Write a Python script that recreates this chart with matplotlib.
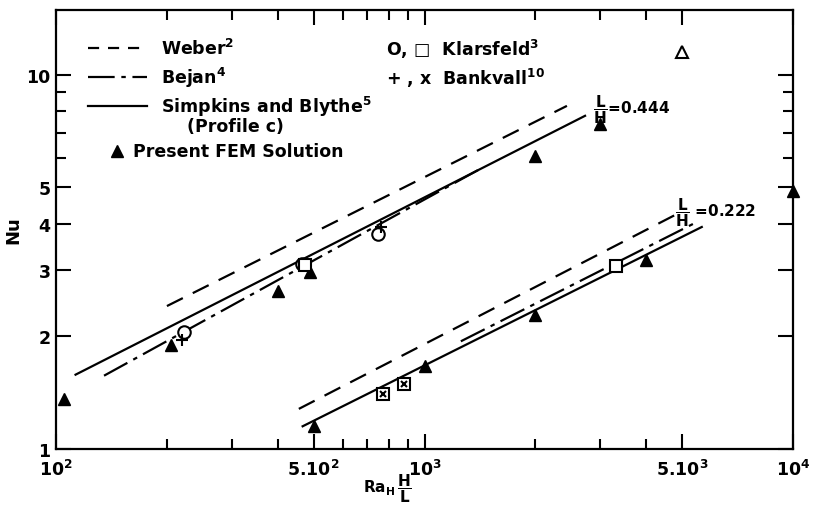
import matplotlib
matplotlib.use("Agg")
import matplotlib.pyplot as plt
from matplotlib.ticker import FixedLocator, NullFormatter

plt.rcParams['font.family'] = ['Liberation Sans Narrow', 'DejaVu Sans']
plt.rcParams['font.weight'] = 'bold'
plt.rcParams['mathtext.fontset'] = 'dejavusans'
plt.rcParams['mathtext.default'] = 'bf'

# FEM results (filled triangles)
fem_up_x = [105, 205, 400, 490, 2000, 3000, 10000]
fem_up_y = [1.36, 1.90, 2.65, 2.97, 6.05, 7.4, 4.9]
fem_lo_x = [500, 1005, 2000, 4000]
fem_lo_y = [1.15, 1.67, 2.28, 3.2]

# Klarsfeld (circles, squares)
kl_circ_x = [222, 465, 750]
kl_circ_y = [2.05, 3.12, 3.75]
kl_sq_x = [475, 770, 880, 3300]
kl_sq_y = [3.10, 1.40, 1.49, 3.08]

# Bankvall (+, x)
bk_plus_x = [220, 760]
bk_plus_y = [1.95, 3.92]
bk_x_x = [770, 880]
bk_x_y = [1.40, 1.49]

open_tri_x = [5000]
open_tri_y = [11.5]

# correlations, L/H = 0.444
weber_up_x = [200, 2435]
weber_up_y = [2.41, 8.26]
bejan_up_x = [135, 1414]
bejan_up_y = [1.57, 5.6]
simp_up_x = [113, 2727]
simp_up_y = [1.58, 7.77]

# correlations, L/H = 0.222
weber_lo_x = [456, 4785]
weber_lo_y = [1.28, 4.22]
bejan_lo_x = [1255, 5370]
bejan_lo_y = [1.94, 4.0]
simp_lo_x = [467, 5655]
simp_lo_y = [1.15, 3.92]

x_major = [100, 500, 1000, 5000, 10000]
x_labels = ['10$^2$', '5.10$^2$', '10$^3$', '5.10$^3$', '10$^4$']
x_minor = [200, 300, 400, 600, 700, 800, 900, 2000, 3000, 4000]
y_major = [1, 2, 3, 4, 5, 10]
y_labels = ['1', '2', '3', '4', '5', '10']
y_minor = [6, 7, 8, 9]

fig = plt.figure(figsize=(8.13, 5.06), dpi=100)
ax = fig.add_axes([56/813, 56/506, 737/813, 439/506])
ax.set_xscale('log')
ax.set_yscale('log')
ax.set_xlim(100, 10000)
ax.set_ylim(1, 14.9)

lw = 1.6
dashed = (8, 5)
dashdot = (12, 3, 2, 3)

for xs, ys in [(weber_up_x, weber_up_y), (weber_lo_x, weber_lo_y)]:
    ax.plot(xs, ys, color='k', lw=lw, dashes=dashed)
for xs, ys in [(bejan_up_x, bejan_up_y), (bejan_lo_x, bejan_lo_y)]:
    ax.plot(xs, ys, color='k', lw=lw, dashes=dashdot)
for xs, ys in [(simp_up_x, simp_up_y), (simp_lo_x, simp_lo_y)]:
    ax.plot(xs, ys, color='k', lw=lw, ls='-')

ax.plot(fem_up_x, fem_up_y, '^', color='k', ms=8.5, ls='none', clip_on=False)
ax.plot(fem_lo_x, fem_lo_y, '^', color='k', ms=8.5, ls='none', clip_on=False)
ax.plot(kl_circ_x, kl_circ_y, 'o', mfc='white', mec='k', mew=1.5, ms=9, ls='none')
ax.plot(kl_sq_x, kl_sq_y, 's', mfc='white', mec='k', mew=1.5, ms=8, ls='none')
ax.plot(bk_plus_x, bk_plus_y, '+', color='k', mew=1.5, ms=8, ls='none')
ax.plot(bk_x_x, bk_x_y, 'x', color='k', mew=1.5, ms=5, ls='none')
ax.plot(open_tri_x, open_tri_y, '^', mfc='white', mec='k', mew=1.5, ms=8, ls='none')

# annotations
ax.text(2870, 8.1, r'$\dfrac{L}{H}$=0.444', fontsize=11, va='center', ha='left')
ax.text(4780, 4.3, r'$\dfrac{L}{H}$ =0.222', fontsize=11, va='center', ha='left')

# hand drawn legend
tr = ax.transAxes
fs = 12.5
ax.plot([0.043, 0.123], [0.913, 0.913], color='k', lw=lw, dashes=(5, 4), transform=tr)
ax.text(0.142, 0.913, 'Weber$^2$', fontsize=fs, va='center', transform=tr)
ax.plot([0.043, 0.123], [0.847, 0.847], color='k', lw=lw, dashes=dashdot, transform=tr)
ax.text(0.142, 0.847, 'Bejan$^4$', fontsize=fs, va='center', transform=tr)
ax.plot([0.043, 0.123], [0.781, 0.781], color='k', lw=lw, transform=tr)
ax.text(0.142, 0.781, 'Simpkins and Blythe$^5$', fontsize=fs, va='center', transform=tr)
ax.text(0.243, 0.736, '(Profile c)', fontsize=fs, va='center', ha='center', transform=tr)
ax.plot([0.083], [0.679], '^', color='k', ms=8.5, transform=tr)
ax.text(0.104, 0.679, 'Present FEM Solution', fontsize=fs, va='center', transform=tr)
ax.text(0.448, 0.913, 'O, \u25a1  Klarsfeld$^3$', fontsize=fs, va='center', transform=tr)
ax.text(0.448, 0.847, '+ , x  Bankvall$^{10}$', fontsize=fs, va='center', transform=tr)

# ticks
ax.xaxis.set_major_locator(FixedLocator(x_major))
ax.set_xticklabels(x_labels)
ax.xaxis.set_minor_locator(FixedLocator(x_minor))
ax.xaxis.set_minor_formatter(NullFormatter())
ax.yaxis.set_major_locator(FixedLocator(y_major))
ax.set_yticklabels(y_labels)
ax.yaxis.set_minor_locator(FixedLocator(y_minor))
ax.yaxis.set_minor_formatter(NullFormatter())
ax.tick_params(which='both', direction='in', top=True, right=True, width=1.5,
               labelsize=12.5, colors='k')
ax.tick_params(which='major', length=11)
ax.tick_params(axis='x', which='major', pad=7)
ax.tick_params(axis='y', which='major', pad=4)
ax.tick_params(which='minor', length=7.5)
for s in ax.spines.values():
    s.set_linewidth(1.6)

ax.set_ylabel('Nu', fontsize=13, fontweight='bold')
ax.yaxis.set_label_coords(-0.045, 0.5)
ax.set_xlabel(r'Ra$_{\mathbf{H}}\,\dfrac{\mathbf{H}}{\mathbf{L}}$', fontsize=11,
              fontweight='bold')
ax.xaxis.set_label_coords(0.45, -0.05)

fig.savefig('out.png', dpi=100)
